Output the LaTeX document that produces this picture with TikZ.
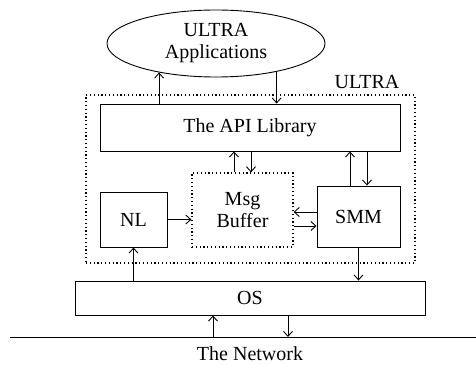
\documentclass[tikz,border=0pt]{standalone}
\usepackage{fontspec}
\setmainfont{Liberation Serif}
\usetikzlibrary{shapes.geometric,arrows.meta}
\begin{document}
\begin{tikzpicture}[x=1pt,y=1pt,
  font=\fontsize{20}{22}\selectfont,
  line width=0.9pt,
  >={Straight Barb[length=5pt,width=9pt,line width=0.9pt]},
  box/.style={draw,rectangle,inner sep=0pt,align=center},
  dotbox/.style={draw,rectangle,inner sep=0pt,align=center,line width=1.2pt,dash pattern=on 1.2pt off 2.6pt},
  oval/.style={draw,ellipse,inner sep=0pt,align=center}]
\useasboundingbox (0,0) rectangle (476,364);
\node[oval,minimum width=218,minimum height=67] (app) at (216,320.5) {ULTRA\\Applications};
\node[dotbox,minimum width=329,minimum height=168] (ultrabox) at (250.5,185) {};
\node (ultralbl) at (367,282) {ULTRA};
\node[box,minimum width=300,minimum height=47] (api) at (250,236.5) {The API Library};
\node[dotbox,minimum width=101,minimum height=74] (msg) at (242.5,154) {Msg\\Buffer};
\node[box,minimum width=83,minimum height=61] (smm) at (358.5,147.5) {SMM};
\node[box,minimum width=67,minimum height=55] (nl) at (133.5,144.5) {NL};
\node[box,minimum width=350,minimum height=34] (os) at (250,66) {OS};
\coordinate (netL) at (10,27);
\coordinate (netR) at (476,27);
\draw (netL) -- (netR);
\node[inner sep=0pt] (netlbl) at (250,10.5) {The Network};
% API <-> applications
\draw[->] (api.north -| app.207) -- (app.207);
\draw[->] (app.335) -- (api.north -| app.335);
% API <-> Msg
\draw[->] ([xshift=-8.5pt]msg.north) -- ([xshift=-8.5pt]msg.north |- api.south);
\draw[->] ([xshift=8.5pt]msg.north |- api.south) -- ([xshift=8.5pt]msg.north);
% API <-> SMM
\draw[->] ([xshift=-8.5pt]smm.north) -- ([xshift=-8.5pt]smm.north |- api.south);
\draw[->] ([xshift=8.5pt]smm.north |- api.south) -- ([xshift=8.5pt]smm.north);
% NL -> Msg
\draw[->] (nl.east) -- (msg.west |- nl.east);
% SMM <-> Msg
\draw[->] ([yshift=4.5pt]smm.west) -- ([yshift=4.5pt]smm.west -| msg.east);
\draw[->] ([yshift=-9.5pt]smm.west -| msg.east) -- ([yshift=-9.5pt]smm.west);
% OS <-> NL, SMM
\draw[->] (os.north -| nl.south) -- (nl.south);
\draw[->] (smm.south) -- (os.north -| smm.south);
% Network <-> OS
\draw[->] ([xshift=-37pt]os.south |- netL) -- ([xshift=-37pt]os.south);
\draw[->] ([xshift=38pt]os.south) -- ([xshift=38pt]os.south |- netL);
\end{tikzpicture}
\end{document}
